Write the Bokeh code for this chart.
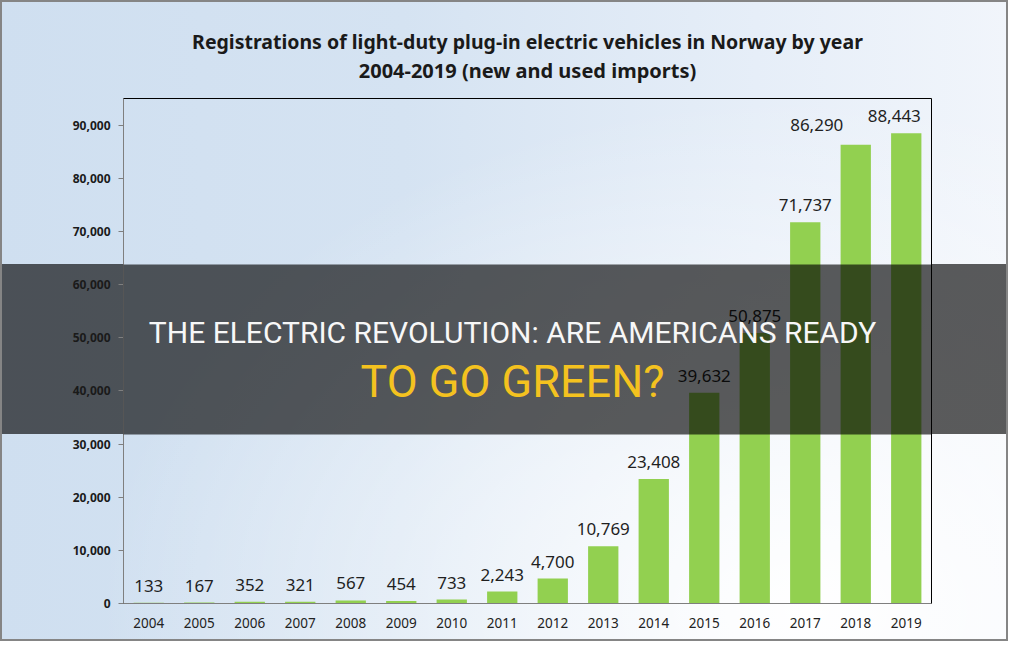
from bokeh.plotting import figure
from bokeh.models import (BoxAnnotation, Label, NumeralTickFormatter, FixedTicker,
                          ColumnDataSource, Range1d, FactorRange, Title)
from bokeh.core.properties import value
from bokeh.embed import file_html
from bokeh.resources import INLINE

# ---- data ----
years = ["2004", "2005", "2006", "2007", "2008", "2009", "2010", "2011",
         "2012", "2013", "2014", "2015", "2016", "2017", "2018", "2019"]
registrations = [133, 167, 352, 321, 567, 454, 733, 2243,
                 4700, 10769, 23408, 39632, 50875, 71737, 86290, 88443]
y_ticks = [0, 10000, 20000, 30000, 40000, 50000, 60000, 70000, 80000, 90000]
title_line1 = "Registrations of light-duty plug-in electric vehicles in Norway by year"
title_line2 = "2004-2019 (new and used imports)"
banner_line1 = "THE ELECTRIC REVOLUTION: ARE AMERICANS READY"
banner_line2 = "TO GO GREEN?"

# ---- styling (pixel nudges of the value labels, as placed in the original) ----
label_dx = [0, 0, 0, 0, 0, 0, 0, 0, 0, 0, 0, 0, 0, 0, -39, -12]
label_dy = [-17, -17, -17, -17, -17, -17, -17, -17, -17, -17, -17, -17, -17, -17, -20, -17]

src = ColumnDataSource(dict(
    year=years,
    value=registrations,
    label=[f"{v:,}" for v in registrations],
    dx=label_dx,
    dy=label_dy,
))

W, H = 1008, 641
FRAME_L, FRAME_R, FRAME_T, FRAME_B = 123, 931, 98, 603
BAN_T, BAN_B = 264, 434
SHADE = "rgba(0,0,0,0.64)"

p = figure(width=W, height=H,
           x_range=FactorRange(factors=years, range_padding=0),
           y_range=Range1d(0, 95000),
           output_backend="svg", toolbar_location=None,
           min_border_left=FRAME_L, min_border_right=W - FRAME_R,
           min_border_top=FRAME_T, min_border_bottom=H - FRAME_B)

p.border_fill_color = None
p.background_fill_color = None
shade = f"linear-gradient({SHADE}, {SHADE})"
p.styles = {
    "background": (
        f"{shade} 0px {BAN_T}px / {FRAME_L}px {BAN_B - BAN_T}px no-repeat, "
        f"{shade} {FRAME_R}px {BAN_T}px / {W - FRAME_R}px {BAN_B - BAN_T}px no-repeat, "
        "radial-gradient(ellipse 70% 80% at 80% 95%, rgba(255,255,255,1) 0%, "
        "rgba(255,255,255,0) 100%), "
        "linear-gradient(90deg, #cfdff0 0%, #d5e3f2 40%, #e6eef8 75%, #f1f5fb 100%)"),
    "box-shadow": "inset 0 0 0 2px #858585",
}

p.outline_line_color = "black"
p.outline_line_width = 1
p.xgrid.grid_line_color = None
p.ygrid.grid_line_color = None

p.vbar(x="year", top="value", width=0.6, source=src,
       fill_color="#92d050", line_color=None)
p.text(x="year", y="value", text="label", source=src,
       x_offset="dx", y_offset="dy",
       text_align="center", text_baseline="alphabetic",
       text_font=value("Noto Sans"), text_font_size="17px", text_color="#1f1f1f")

# axes
p.xaxis.axis_line_color = "#7f7f7f"
p.xaxis.major_tick_line_color = None
p.xaxis.major_label_standoff = 8
p.xaxis.major_label_text_font = "Noto Sans"
p.xaxis.major_label_text_font_size = "13.5px"
p.xaxis.major_label_text_color = "#222222"

p.yaxis.ticker = FixedTicker(ticks=y_ticks)
p.yaxis.formatter = NumeralTickFormatter(format="0,0")
p.yaxis.axis_line_color = "#7f7f7f"
p.yaxis.major_tick_line_color = "#7f7f7f"
p.yaxis.major_tick_in = 0
p.yaxis.major_tick_out = 5
p.yaxis.minor_tick_line_color = None
p.yaxis.major_label_standoff = 8
p.yaxis.major_label_text_font = "Noto Sans"
p.yaxis.major_label_text_font_style = "bold"
p.yaxis.major_label_text_font_size = "12px"
p.yaxis.major_label_text_color = "#1a1a1a"

# chart title (two lines above the frame; first added sits nearest the frame)
p.add_layout(Title(text=title_line2, align="center", standoff=29,
                   text_font="Noto Sans", text_font_style="bold",
                   text_font_size="20px", text_color="#1a1a1a"), "above")
p.add_layout(Title(text=title_line1, align="center", standoff=-29,
                   text_font="Noto Sans", text_font_style="bold",
                   text_font_size="19.5px", text_color="#1a1a1a"), "above")

# dark banner overlay (inside the frame; outside parts are in the CSS background)
p.add_layout(BoxAnnotation(left=0, right=W, top=BAN_T, bottom=BAN_B,
                           left_units="canvas", right_units="canvas",
                           top_units="canvas", bottom_units="canvas",
                           fill_color="black", fill_alpha=0.64, line_color=None,
                           level="overlay"))
p.add_layout(Label(x=512, y=332, x_units="canvas", y_units="canvas", text=banner_line1,
                   text_align="center", text_baseline="middle",
                   text_font="Roboto", text_font_size="30px",
                   text_color="#f7f7f7", level="overlay"))
p.add_layout(Label(x=512, y=381, x_units="canvas", y_units="canvas", text=banner_line2,
                   text_align="center", text_baseline="middle",
                   text_font="Roboto", text_font_size="45px",
                   text_color="#f4c21f", level="overlay"))

open("out.html", "w").write(file_html(p, INLINE))
